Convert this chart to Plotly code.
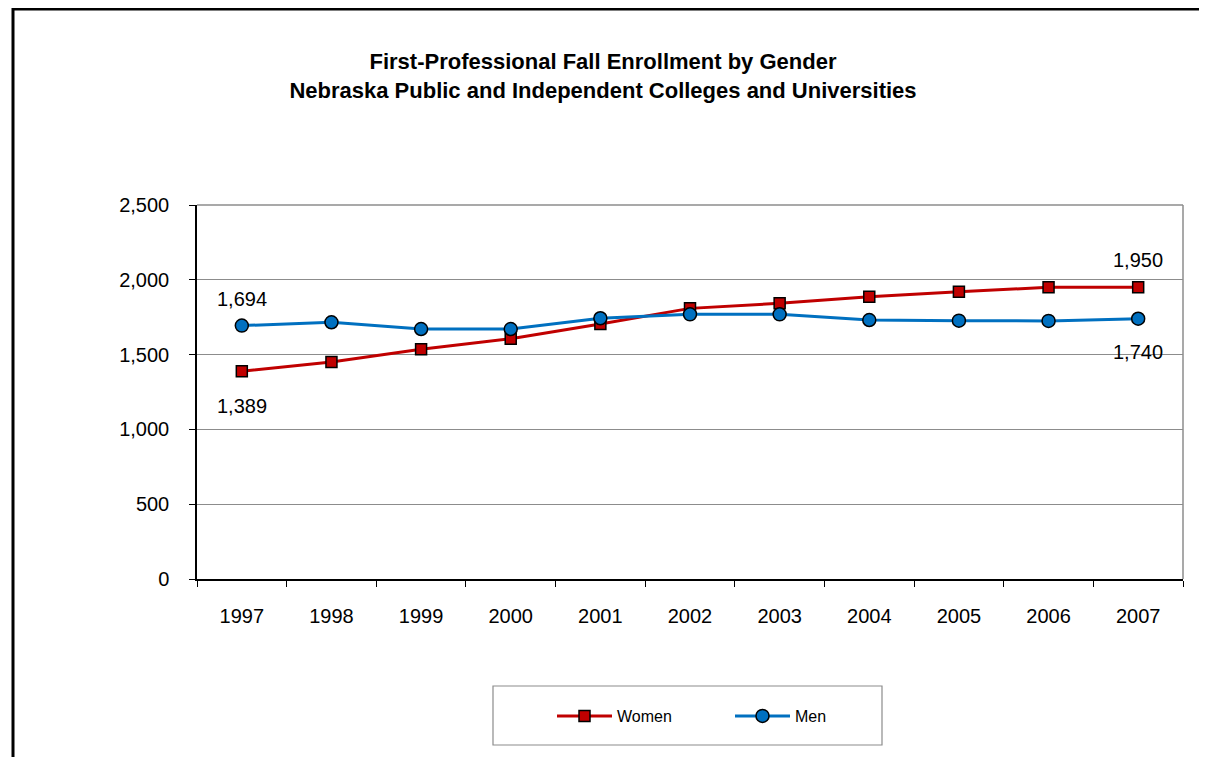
import plotly.graph_objects as go

years = ["1997", "1998", "1999", "2000", "2001", "2002", "2003", "2004", "2005", "2006", "2007"]
women = [1389, 1450, 1535, 1606, 1705, 1809, 1843, 1887, 1920, 1950, 1950]
men = [1694, 1716, 1671, 1671, 1743, 1769, 1769, 1731, 1727, 1725, 1740]

RED = "#C00000"
BLUE = "#0070C0"
GRAY = "#8c8c8c"
FONT = "Liberation Sans, Arial, sans-serif"

# the page body has an 8px margin, so the figure is 8px smaller than the window
OFF = 8
W, H = 1207 - OFF, 757 - OFF
L, R, T, B = 197, 1183, 205, 579   # plot area in page pixels


def px_x(p):
    return (p - L) / (R - L)


def px_y(p):
    return (B - p) / (B - T)


fig = go.Figure()
fig.add_trace(go.Scatter(
    x=years, y=women, name="Women", mode="lines+markers",
    line=dict(color=RED, width=3),
    marker=dict(symbol="square", size=11, color=RED, line=dict(color="black", width=1.5)),
))
fig.add_trace(go.Scatter(
    x=years, y=men, name="Men", mode="lines+markers",
    line=dict(color=BLUE, width=3),
    marker=dict(symbol="circle", size=13, color=BLUE, line=dict(color="black", width=1.5)),
))

# data labels on first and last points (category axis -> use index)
last = len(years) - 1
labels = [
    (0, men[0], 27),
    (0, women[0], -35),
    (last, women[last], 27),
    (last, men[last], -33),
]
for i, y, dy in labels:
    fig.add_annotation(x=i, y=y, text=f"{y:,}", showarrow=False, yshift=dy,
                       font=dict(family=FONT, size=20, color="black"))

fig.update_layout(
    width=W, height=H,
    paper_bgcolor="white", plot_bgcolor="white",
    margin=dict(l=L - OFF, r=1207 - R, t=T - OFF, b=757 - B),
    font=dict(family=FONT, size=20, color="black"),
    title=dict(
        text="<b>First-Professional Fall Enrollment by Gender<br>Nebraska Public and Independent Colleges and Universities</b>",
        x=px_x(603), xref="paper", xanchor="center",
        y=1 - (69 - OFF) / H, yref="container", yanchor="middle",
        font=dict(family=FONT, size=22, color="black"),
    ),
    xaxis=dict(
        type="category", range=[-0.5, 10.5], tickson="boundaries",
        ticks="outside", ticklen=6, tickcolor="black",
        showline=True, linecolor="black", linewidth=1.5,
        showgrid=False, zeroline=False, ticklabelstandoff=18,
    ),
    yaxis=dict(
        range=[0, 2500], dtick=500, tickformat=",",
        ticks="outside", ticklen=6, tickcolor="black",
        showline=True, linecolor="black", linewidth=1.5,
        gridcolor=GRAY, gridwidth=1, zeroline=False, ticklabelstandoff=16,
    ),
    showlegend=True,
    legend=dict(
        orientation="h", x=px_x(552), xanchor="left", y=px_y(716), yanchor="middle",
        font=dict(family=FONT, size=16), bgcolor="rgba(0,0,0,0)",
        entrywidth=108, entrywidthmode="pixels", itemwidth=55,
    ),
    shapes=[
        # gray plot-area frame (top and right)
        dict(type="line", xref="paper", yref="paper", x0=0, x1=1, y0=1, y1=1,
             line=dict(color=GRAY, width=1.5)),
        dict(type="line", xref="paper", yref="paper", x0=1, x1=1, y0=0, y1=1,
             line=dict(color=GRAY, width=1.5)),
        # legend box
        dict(type="rect", xref="paper", yref="paper",
             x0=px_x(493), x1=px_x(882), y0=px_y(745), y1=px_y(686),
             line=dict(color=GRAY, width=1.2)),
        # outer chart border
        dict(type="rect", xref="paper", yref="paper",
             x0=px_x(13), x1=px_x(1215), y0=px_y(770), y1=px_y(9),
             line=dict(color="black", width=3)),
    ],
)

fig.write_html("out.html")
